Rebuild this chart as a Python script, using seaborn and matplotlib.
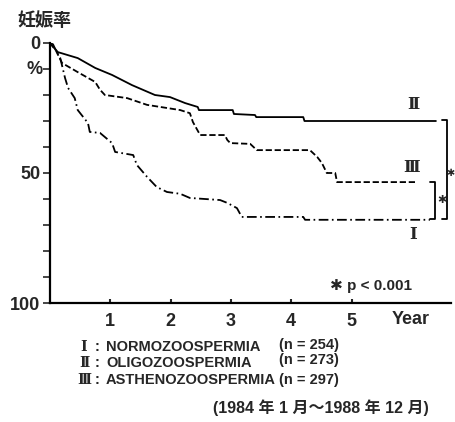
import matplotlib
matplotlib.use("Agg")
import matplotlib.pyplot as plt
import seaborn as sns
import pandas as pd

# Cumulative pregnancy rate (%) by years of follow-up, one polyline per group
years_I = [0, 0.05, 0.1, 0.17, 0.25, 0.3, 0.41, 0.46, 0.63, 0.66, 0.83, 1.03, 1.08,
           1.38, 1.44, 1.61, 1.77, 1.94, 2.16, 2.32, 2.82, 2.94, 3.1, 3.18, 4.2, 4.23, 6.3]
rate_I = [0, 0.5, 3, 5.8, 13.5, 17.3, 21.2, 25.8, 30.8, 34.2, 34.6, 38.5, 41.9,
          43.1, 46.9, 51.5, 55.4, 57.3, 58, 59.6, 60.4, 61.5, 63.5, 66.9, 66.9, 68, 68]

years_II = [0, 0.13, 0.46, 0.75, 1.03, 1.36, 1.74, 1.99, 2.24, 2.45, 2.47, 3.03, 3.05,
            3.4, 3.42, 4.2, 4.22, 6.4]
rate_II = [0, 3.5, 5.8, 9.6, 12.3, 16.2, 20.0, 20.8, 23.1, 24.6, 25.8, 25.8, 27.3,
           27.7, 28.5, 28.5, 30, 30]

years_III = [0, 0.1, 0.2, 0.46, 0.75, 0.83, 0.91, 1.28, 1.61, 2.16, 2.32, 2.37, 2.49,
             2.9, 2.94, 2.99, 3.32, 3.43, 4.26, 4.31, 4.43, 4.51, 4.59, 4.73, 4.76, 6.09]
rate_III = [0, 3, 7.7, 11.2, 15, 18, 20, 21.2, 23.8, 25.8, 27, 30.4, 35.4,
            35.4, 37.3, 38.5, 38.8, 41.2, 41.2, 41.2, 43.8, 46.2, 50, 50, 53.5, 53.5]

group_names = ["NORMOZOOSPERMIA", "OLIGOZOOSPERMIA", "ASTHENOZOOSPERMIA"]
group_numerals = ["Ⅰ", "Ⅱ", "Ⅲ"]
group_n = [254, 273, 297]

x_ticks = [1, 2, 3, 4, 5]
y_ticks = [0, 10, 20, 30, 40, 50, 60, 70, 80, 90, 100]
y_tick_labels = ["0", "", "", "", "", "50", "", "", "", "", "100"]

sns.set_theme(style="white")
plt.rcParams["font.family"] = ["Liberation Sans", "Noto Sans CJK JP", "DejaVu Sans"]
plt.rcParams["lines.scale_dashes"] = False

W, H = 456, 422
fig = plt.figure(figsize=(W / 100, H / 100), dpi=100)
ax = fig.add_axes([50 / W, (H - 303) / H, 401 / W, 260 / H])

styles = [
    (years_I, rate_I, (0, (7, 2.5, 1.2, 2.5))),
    (years_II, rate_II, "-"),
    (years_III, rate_III, (0, (4.5, 2))),
]
for xs, ys, ls in styles:
    df = pd.DataFrame({"year": xs, "rate": ys})
    sns.lineplot(data=df, x="year", y="rate", ax=ax, color="black",
                 linewidth=1.3, linestyle=ls, estimator=None, sort=False)

ax.set_xlim(0, 6.65)
ax.set_ylim(100, 0)
ax.set_xlabel("")
ax.set_ylabel("")
ax.set_xticks(x_ticks)
ax.set_xticklabels([str(v) for v in x_ticks], fontsize=13, fontweight="bold")
ax.set_yticks(y_ticks)
ax.set_yticklabels(y_tick_labels, fontsize=13, fontweight="bold")
ax.tick_params(axis="y", direction="out", length=5, width=1.2, pad=2, left=True)
ax.tick_params(axis="x", direction="in", length=3, width=1.5, pad=7, bottom=True)
for side in ("top", "right"):
    ax.spines[side].set_visible(False)
for side in ("left", "bottom"):
    ax.spines[side].set_linewidth(1.6)
    ax.spines[side].set_color("black")

# Group labels at the end of each curve
num_font = ["DejaVu Serif", "Noto Sans CJK JP"]
ax.text(6.02, 23.8, "Ⅱ", ha="center", va="center", fontsize=12, family=num_font, fontweight="bold")
ax.text(6.0, 47.7, "Ⅲ", ha="center", va="center", fontsize=12, family=num_font, fontweight="bold")
ax.text(6.02, 73.8, "Ⅰ", ha="center", va="center", fontsize=12, family=num_font, fontweight="bold")

# Significance brackets
def bracket(x0, x1, y0, y1):
    ax.plot([x0, x1, x1, x0], [y0, y0, y1, y1], color="black", lw=1.3, clip_on=False)

bracket(6.5, 6.58, 29.6, 67.7)
bracket(6.3, 6.38, 53.5, 67.7)
ax.text(6.645, 50, "✱", ha="center", va="center", fontsize=7, family=["DejaVu Sans"], clip_on=False)
ax.text(6.5, 60.4, "✱", ha="center", va="center", fontsize=8, family=["DejaVu Sans"])
ax.text(4.64, 93.5, "✱ p < 0.001", ha="left", va="center", fontsize=11,
        family=["Liberation Sans", "DejaVu Sans"], fontweight="bold")

def ftext(px, py, s, **kw):
    fig.text(px / W, 1 - py / H, s, **kw)

ftext(44, 20, "妊娠率", ha="center", va="center", fontsize=13, fontweight="bold",
      family=["Noto Sans CJK JP"])
ftext(35, 69, "%", ha="center", va="center", fontsize=13, fontweight="bold")
ftext(411, 320, "Year", ha="center", va="center", fontsize=13, fontweight="bold")

legend_y = [347, 363, 380]
n_y = [345, 360, 380]
for num, name, n, yl, yn in zip(group_numerals, group_names, group_n, legend_y, n_y):
    ftext(84, yl, num, ha="center", va="center", fontsize=10, fontweight="bold", family=num_font)
    ftext(97, yl, ":", ha="center", va="center", fontsize=10.5, fontweight="bold")
    ftext(106, yl, name, ha="left", va="center", fontsize=10.5, fontweight="bold")
    ftext(279, yn, f"(n = {n})", ha="left", va="center", fontsize=10.5, fontweight="bold")

ftext(213, 408, "(1984 年 1 月～1988 年 12 月)", ha="left", va="center", fontsize=11.5,
      fontweight="bold", family=["Liberation Sans", "Noto Sans CJK JP"])

fig.savefig("out.png", dpi=100)
